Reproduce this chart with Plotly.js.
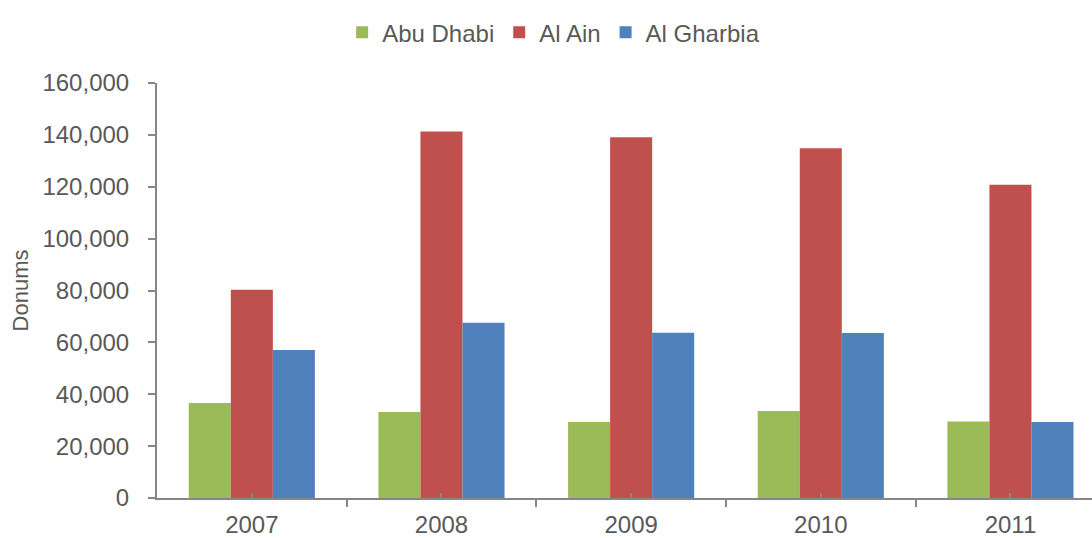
<!DOCTYPE html>
<html>
<head>
<meta charset="utf-8">
<script src="https://cdn.plot.ly/plotly-3.0.1.min.js"></script>
<style>html,body{margin:0;padding:0;background:#fff}#chart{width:1092px;height:538px}</style>
</head>
<body>
<div id="chart"></div>
<script>
const years = ["2007", "2008", "2009", "2010", "2011"];
const abuDhabi = [36600, 33200, 29300, 33500, 29500];
const alAin = [80300, 141300, 139100, 134800, 120800];
const alGharbia = [57100, 67600, 63700, 63600, 29300];

const seriesNames = ["Abu Dhabi", "Al Ain", "Al Gharbia"];
const seriesColors = ["#9BBB59", "#C0504D", "#4F81BD"];
const seriesValues = [abuDhabi, alAin, alGharbia];
const xIdx = years.map((_, i) => i);

const traces = seriesValues.map((vals, k) => ({
  type: "bar",
  name: seriesNames[k],
  x: xIdx,
  y: vals,
  marker: { color: seriesColors[k], line: { width: 0 } },
  hoverinfo: "x+y+name"
}));

const textColor = "#595959";
const axisColor = "#868686";

const layout = {
  width: 1092,
  height: 538,
  margin: { l: 157, r: 0, t: 83, b: 40, pad: 0 },
  paper_bgcolor: "#ffffff",
  plot_bgcolor: "#ffffff",
  font: { family: "Liberation Sans, Arial, sans-serif", color: textColor, size: 24 },
  barmode: "group",
  bargap: 0.335,
  bargroupgap: 0,
  showlegend: true,
  legend: {
    orientation: "h",
    xref: "container",
    yref: "container",
    x: 0.507,
    xanchor: "center",
    y: 0.981,
    yanchor: "top",
    font: { size: 24, color: textColor },
    itemwidth: 30,
    traceorder: "normal"
  },
  xaxis: {
    type: "linear",
    range: [-0.5, 4.43],
    tickmode: "array",
    tickvals: xIdx,
    ticktext: years,
    ticks: "inside",
    ticklen: 5,
    tickcolor: axisColor,
    tickwidth: 2,
    minor: { tickmode: "linear", tick0: 0.5, dtick: 1, ticks: "outside", ticklen: 7, tickcolor: axisColor, tickwidth: 2 },
    showline: true,
    linecolor: axisColor,
    linewidth: 2,
    showgrid: false,
    zeroline: false,
    fixedrange: true,
    ticklabelstandoff: 4,
    tickfont: { size: 24, color: textColor },
    layer: "above traces"
  },
  yaxis: {
    range: [0, 160000],
    tickmode: "linear",
    tick0: 0,
    dtick: 20000,
    tickformat: ",d",
    ticks: "outside",
    ticklen: 7,
    tickcolor: axisColor,
    tickwidth: 2,
    ticklabelstandoff: 14,
    showline: true,
    linecolor: axisColor,
    linewidth: 2,
    showgrid: false,
    zeroline: false,
    tickfont: { size: 24, color: textColor },
    title: { text: "Donums", font: { size: 22, color: textColor }, standoff: 8 }
  }
};

Plotly.newPlot("chart", traces, layout, { displayModeBar: false, staticPlot: true });
</script>
</body>
</html>
